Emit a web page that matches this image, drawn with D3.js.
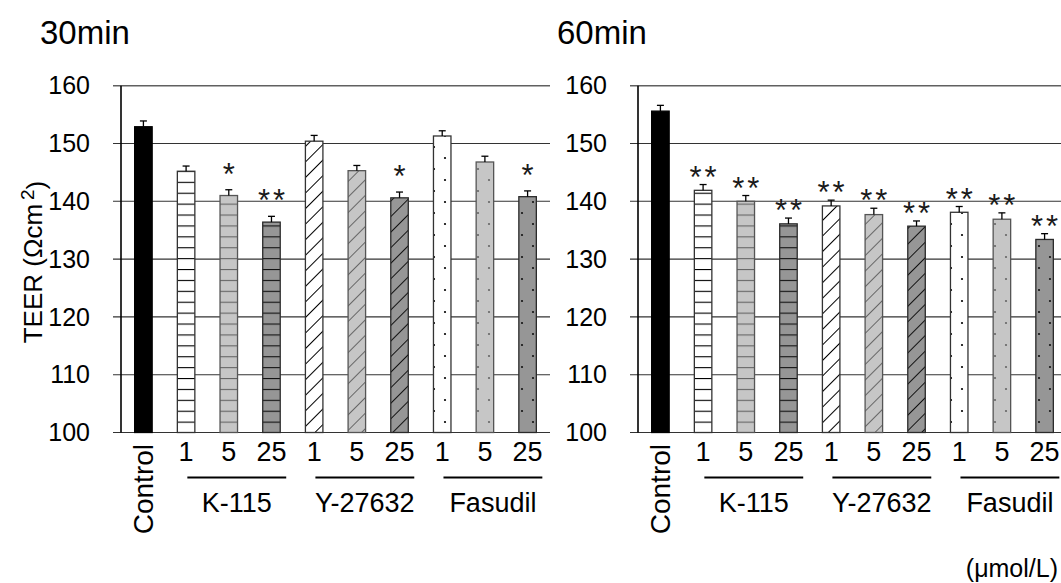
<!DOCTYPE html>
<meta charset="utf-8">
<style>
  body { margin: 0; background: #fff; }
  svg { display: block; font-family: Arial, "Liberation Sans", sans-serif; }
</style>
<body>
<svg id="chart" width="1061" height="583"></svg>
<script src="https://d3js.org/d3.v7.min.js"></script>
<script>
// data (TEER, Ωcm²)
const doses = ["1", "5", "25"];
const groups = ["K-115", "Y-27632", "Fasudil"];
const barKeys = ["Control", "K1", "K5", "K25", "Y1", "Y5", "Y25", "F1", "F5", "F25"];
const values30 = [152.9, 145.2, 141.0, 136.4, 150.4, 145.3, 140.6, 151.3, 146.8, 140.8];
const errors30 = [1.0, 0.9, 1.0, 1.0, 1.0, 0.9, 1.0, 0.9, 1.0, 1.0];
const sig30 = ["", "", "*", "**", "", "", "*", "", "", "*"];
const values60 = [155.6, 141.9, 140.0, 136.1, 139.2, 137.7, 135.7, 138.1, 136.9, 133.4];
const errors60 = [1.0, 1.0, 1.0, 1.0, 1.0, 1.1, 0.9, 1.0, 1.1, 1.0];
const sig60 = ["", "**", "**", "**", "**", "**", "**", "**", "**", "**"];
const yTicks = [100, 110, 120, 130, 140, 150, 160];

const svg = d3.select("#chart");
const defs = svg.append("defs");

const y = d3.scaleLinear().domain([100, 160]).range([432.5, 85.7]);

// fill styles: pattern kind + shade
const shades = {
  white: { bg: "#ffffff", ink: "#000000", edge: "#333333" },
  light: { bg: "#c6c6c6", ink: "#666666", edge: "#555555" },
  dark:  { bg: "#969696", ink: "#111111", edge: "#2a2a2a" }
};
const base = y(100);

function makePattern(id, kind, sh) {
  let p;
  if (kind === "h") {
    p = defs.append("pattern").attr("id", id).attr("patternUnits", "userSpaceOnUse")
      .attr("width", 10).attr("height", 10.9).attr("y", base % 10.9);
    p.append("rect").attr("width", 10).attr("height", 10.9).attr("fill", sh.bg);
    p.append("line").attr("x1", 0).attr("x2", 10).attr("y1", 0.5).attr("y2", 0.5)
      .attr("stroke", sh.ink).attr("stroke-width", 1.2);
  } else if (kind === "d") {
    p = defs.append("pattern").attr("id", id).attr("patternUnits", "userSpaceOnUse")
      .attr("width", 11).attr("height", 11).attr("patternTransform", "rotate(45)");
    p.append("rect").attr("width", 11).attr("height", 11).attr("fill", sh.bg);
    p.append("line").attr("x1", 0.5).attr("x2", 0.5).attr("y1", 0).attr("y2", 11)
      .attr("stroke", sh.ink).attr("stroke-width", 1);
  } else {
    p = defs.append("pattern").attr("id", id).attr("patternUnits", "userSpaceOnUse")
      .attr("width", 22).attr("height", 22);
    p.append("rect").attr("width", 22).attr("height", 22).attr("fill", sh.bg);
    [[5, 4], [16, 15]].forEach(([cx, cy]) => {
      p.append("circle").attr("cx", cx).attr("cy", cy).attr("r", 1.1).attr("fill", sh.ink);
    });
  }
}
const styles = [{ fill: "#000", edge: "#000" }];
["h", "d", "p"].forEach(kind => {
  ["white", "light", "dark"].forEach(s => {
    const id = `pat-${kind}-${s}`;
    makePattern(id, kind, shades[s]);
    styles.push({ fill: `url(#${id})`, edge: shades[s].edge });
  });
});

function drawPanel(x0, gridEnd, title, values, errors, sig, sigGap) {
  const g = svg.append("g");
  const x = d3.scaleBand().domain(barKeys).range([x0, x0 + 429])
    .paddingInner(0.59).paddingOuter(0.32);

  // title
  g.append("text").attr("x", x0 - 81).attr("y", 44)
    .attr("font-size", 33).text(title);

  // gridlines + tick labels
  g.selectAll(".grid").data(yTicks).join("line")
    .attr("x1", x0 - 8).attr("x2", gridEnd)
    .attr("y1", d => y(d)).attr("y2", d => y(d))
    .attr("stroke", d => d === 160 ? "#606060" : "#333")
    .attr("stroke-width", d => d === 160 ? 1.6 : 1.1);
  g.selectAll(".tl").data(yTicks).join("text")
    .attr("x", x0 - 31).attr("y", d => y(d)).attr("dy", "0.35em")
    .attr("text-anchor", "end").attr("font-size", 25).text(d => d);

  // bars
  g.selectAll(".bar").data(values).join("rect")
    .attr("x", (d, i) => x(barKeys[i]))
    .attr("width", x.bandwidth())
    .attr("y", d => y(d))
    .attr("height", d => y(100) - y(d))
    .attr("fill", (d, i) => styles[i].fill)
    .attr("stroke", (d, i) => styles[i].edge)
    .attr("stroke-width", 1.3);

  // error bars (upper only)
  values.forEach((v, i) => {
    const cx = x(barKeys[i]) + x.bandwidth() / 2;
    const top = y(v + errors[i]);
    g.append("line").attr("x1", cx).attr("x2", cx).attr("y1", y(v)).attr("y2", top)
      .attr("stroke", "#000").attr("stroke-width", 1.3);
    g.append("line").attr("x1", cx - 3.5).attr("x2", cx + 3.5).attr("y1", top).attr("y2", top)
      .attr("stroke", "#000").attr("stroke-width", 1.3);
    // one text per asterisk, spread around the bar centre
    const n = sig[i].length;
    d3.range(n).forEach(k => {
      g.append("text")
        .attr("x", cx + (k - (n - 1) / 2) * 15)
        .attr("y", top - sigGap)
        .attr("text-anchor", "middle")
        .attr("font-size", 31)
        .attr("fill", "#1a1a1a")
        .text("*");
    });
  });

  // y axis line
  g.append("line").attr("x1", x0).attr("x2", x0).attr("y1", y(160)).attr("y2", y(100))
    .attr("stroke", "#000").attr("stroke-width", 1.6);

  // x labels
  const cxOf = k => x(k) + x.bandwidth() / 2;
  g.append("text")
    .attr("transform", `translate(${cxOf("Control")},444) rotate(-90)`)
    .attr("dy", "0.35em").attr("text-anchor", "end").attr("font-size", 28)
    .text("Control");
  groups.forEach((grp, gi) => {
    const keys = barKeys.slice(1 + gi * 3, 4 + gi * 3);
    keys.forEach((k, di) => {
      g.append("text").attr("x", cxOf(k)).attr("y", 461)
        .attr("text-anchor", "middle").attr("font-size", 27).text(doses[di]);
    });
    const xa = x(keys[0]) + 10, xb = x(keys[2]) + x.bandwidth() + 6;
    g.append("line").attr("x1", xa).attr("x2", xb).attr("y1", 477.5).attr("y2", 477.5)
      .attr("stroke", "#000").attr("stroke-width", 2);
    g.append("text").attr("x", (xa + xb) / 2).attr("y", 512)
      .attr("text-anchor", "middle").attr("font-size", 27).text(grp);
  });
}

drawPanel(121, 550, "30min", values30, errors30, sig30, 5);
drawPanel(638, 1061, "60min", values60, errors60, sig60, -3);

// y axis title
const yt = svg.append("text")
  .attr("transform", "translate(33,262) rotate(-90)")
  .attr("dy", "0.35em").attr("text-anchor", "middle").attr("font-size", 26);
yt.append("tspan").text("TEER (\u03A9cm");
yt.append("tspan").attr("dy", "-0.45em").attr("dx", 4).attr("font-size", 19).text("2");
yt.append("tspan").attr("dy", "0.45em").text(")");

// unit note
svg.append("text").attr("x", 1058).attr("y", 577).attr("text-anchor", "end")
  .attr("font-size", 25).text("(\u03BCmol/L)");
</script>
</body>
